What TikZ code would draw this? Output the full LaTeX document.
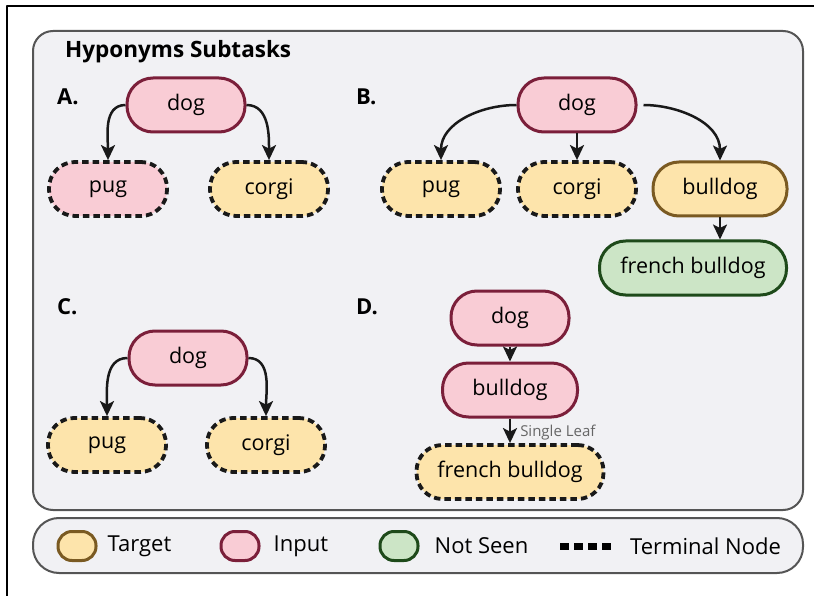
\documentclass[tikz,border=0pt]{standalone}
\usepackage{fontspec}
\setmainfont{Open Sans}
\usetikzlibrary{arrows.meta,positioning}
\definecolor{panelbg}{HTML}{F1F1F4}
\definecolor{panelline}{HTML}{555555}
\definecolor{inputfill}{HTML}{F9CCD5}
\definecolor{inputline}{HTML}{7B1F3A}
\definecolor{targetfill}{HTML}{FDE4AB}
\definecolor{targetline}{HTML}{7A5A22}
\definecolor{unseenfill}{HTML}{CCE5C6}
\definecolor{unseenline}{HTML}{1E4A1A}
\tikzset{
  word/.style={rounded corners=26pt, minimum width=118pt, minimum height=54pt, inner sep=0pt,
    line width=3pt, font=\fontsize{21.5}{25}\selectfont},
  input/.style={word, draw=inputline, fill=inputfill},
  target/.style={word, draw=targetline, fill=targetfill},
  unseen/.style={word, draw=unseenline, fill=unseenfill},
  terminal/.style={draw=black!90, dash pattern=on 6.5pt off 4pt, line width=3.8pt},
  link/.style={-{Stealth[length=15pt,width=14pt,inset=3.5pt]}, line width=2.5pt, black!90},
  tag/.style={font=\bfseries\fontsize{22}{26}\selectfont, anchor=west, inner sep=0pt},
  swatch/.style={minimum width=38pt, minimum height=29pt, rounded corners=14pt, inner sep=0pt, line width=3pt},
  keytext/.style={font=\fontsize{22}{26}\selectfont, inner sep=0pt},
}
\begin{document}
\begin{tikzpicture}[x=1pt, y=-1pt, line join=round]
  \useasboundingbox (0,0) rectangle (814,596);
  \draw[line width=1.5pt] (7,596) -- (7,6) -- (814,6);
  % panels
  \draw[panelline, fill=panelbg, line width=2pt, rounded corners=20pt] (33,31) rectangle (803,510);
  \draw[panelline, fill=panelbg, line width=2pt, rounded corners=26pt] (33,518) rectangle (803,573);
  \node[font=\bfseries\fontsize{22.5}{26}\selectfont, anchor=west, inner sep=0pt] (title) at (65,52) {Hyponyms Subtasks};

  % A
  \node[tag] (labA) at (57,97) {A.};
  \node[input] (dogA) at (186,105) {dog};
  \node[input, terminal] (pugA) at (108,189) {pug};
  \node[target, terminal] (corgiA) at (269,189) {corgi};
  \draw[link] (dogA.west) to[out=180, in=90] (pugA.north);
  \draw[link] (dogA.east) to[out=0, in=90] (corgiA.north);

  % B
  \node[tag] (labB) at (356,97) {B.};
  \node[input] (dogB) at (577,105) {dog};
  \node[target, terminal] (pugB) at (441,189) {pug};
  \node[target, terminal] (corgiB) at (577,189) {corgi};
  \node[target, minimum width=134pt] (bulldogB) at (720,189) {bulldog};
  \node[unseen, minimum width=187pt] (frenchB) at (693,268) {french bulldog};
  \draw[link] (dogB.west) to[out=180, in=90] (pugB.north);
  \draw[link] (dogB) -- (corgiB);
  \draw[link, shorten <=6pt] (dogB.east) to[out=0, in=90] (bulldogB.north);
  \draw[link] (bulldogB) -- (bulldogB.south |- frenchB.north);

  % C
  \node[tag] (labC) at (57,307) {C.};
  \node[input] (dogC) at (188,358) {dog};
  \node[target, terminal] (pugC) at (107,445) {pug};
  \node[target, terminal] (corgiC) at (266,445) {corgi};
  \draw[link] (dogC.west) to[out=180, in=90] (pugC.north);
  \draw[link] (dogC.east) to[out=0, in=90] (corgiC.north);

  % D
  \node[tag] (labD) at (356,307) {D.};
  \node[input] (dogD) at (510,318) {dog};
  \node[input, minimum width=135pt] (bulldogD) at (510,390) {bulldog};
  \node[target, terminal, minimum width=187pt] (frenchD) at (510,472) {french bulldog};
  \draw[link] (dogD) -- (bulldogD);
  \draw[link] (bulldogD) -- node[right, font=\fontsize{15}{17}\selectfont, text=black!60, inner sep=0pt, xshift=9pt, yshift=-2pt] (leaf) {Single Leaf} (frenchD);

  % legend
  \node[swatch, draw=targetline, fill=targetfill] (keyTarget) at (77,546) {};
  \node[keytext, right=10pt of keyTarget] (keyTargetText) {Target};
  \node[swatch, draw=inputline, fill=inputfill] (keyInput) at (240,546) {};
  \node[keytext, right=13pt of keyInput] (keyInputText) {Input};
  \node[swatch, draw=unseenline, fill=unseenfill] (keyUnseen) at (399,546) {};
  \node[keytext, right=15pt of keyUnseen] (keyUnseenText) {Not Seen};
  \draw[line width=7pt, dash pattern=on 9pt off 5pt] (560,546) -- (615,546);
  \node[keytext, anchor=west] (keyTerminalText) at (630,546) {Terminal Node};
\end{tikzpicture}
\end{document}
